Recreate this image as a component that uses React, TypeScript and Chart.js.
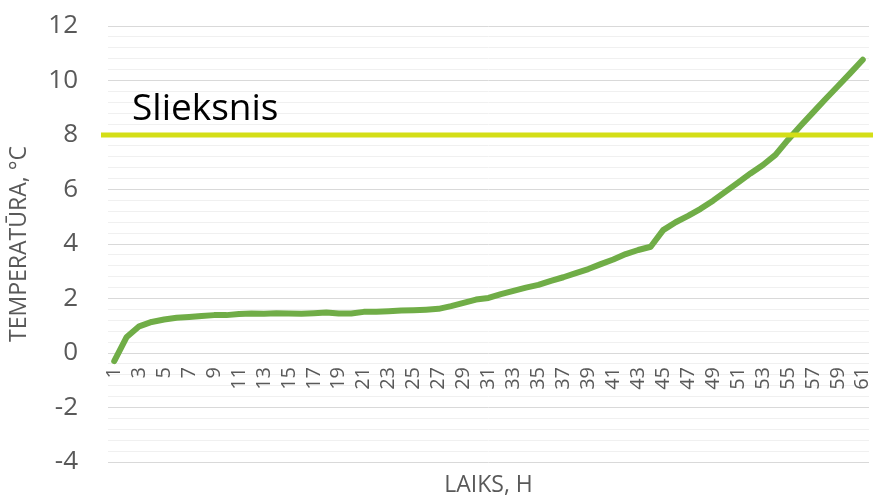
import React, { useEffect, useRef } from "react";
import { Chart, registerables } from "chart.js";

Chart.register(...registerables);

// ---- data ----
const HOURS = [
  1, 2, 3, 4, 5, 6, 7, 8, 9, 10, 11, 12, 13, 14, 15, 16, 17, 18, 19, 20,
  21, 22, 23, 24, 25, 26, 27, 28, 29, 30, 31, 32, 33, 34, 35, 36, 37, 38, 39, 40,
  41, 42, 43, 44, 45, 46, 47, 48, 49, 50, 51, 52, 53, 54, 55, 56, 57, 58, 59, 60, 61,
];

const TEMPERATURE = [
  -0.3, 0.59, 0.98, 1.14, 1.23, 1.29, 1.32, 1.36, 1.39, 1.39,
  1.43, 1.45, 1.44, 1.46, 1.45, 1.44, 1.46, 1.49, 1.45, 1.45,
  1.51, 1.51, 1.53, 1.56, 1.57, 1.59, 1.62, 1.72, 1.84, 1.96,
  2.02, 2.16, 2.28, 2.4, 2.5, 2.65, 2.78, 2.93, 3.08, 3.26,
  3.43, 3.63, 3.78, 3.9, 4.51, 4.8, 5.03, 5.29, 5.59, 5.92,
  6.25, 6.59, 6.9, 7.27, 7.82, 8.33, 8.82, 9.31, 9.79, 10.27, 10.76,
];

const THRESHOLD = 8;
const THRESHOLD_LABEL = "Slieksnis";

const Y_MIN = -4;
const Y_MAX = 12;
const Y_MAJOR_TICKS = [-4, -2, 0, 2, 4, 6, 8, 10, 12];
const Y_MINOR_PER_MAJOR = 5;

const X_TITLE = "LAIKS, H";
const Y_TITLE = "TEMPERATŪRA, °C";

// ---- styles ----
const FONT = "'Open Sans', sans-serif";
const TEXT_GREY = "#595959";
const LINE_GREEN = "#70ad47";
const THRESHOLD_COLOR = "#d4de17";
const MAJOR_GRID = "#d9d9d9";
const MINOR_GRID = "#f0f0f0";

const overlayPlugin = {
  id: "overlay",
  afterDatasetsDraw(chart: any) {
    const { ctx, chartArea, scales } = chart;
    const y = scales.y.getPixelForValue(THRESHOLD);
    ctx.save();
    ctx.strokeStyle = THRESHOLD_COLOR;
    ctx.lineWidth = 5;
    ctx.beginPath();
    ctx.moveTo(chartArea.left - 7, y);
    ctx.lineTo(chart.width, y);
    ctx.stroke();

    ctx.fillStyle = "#000000";
    ctx.font = `37px ${FONT}`;
    ctx.textAlign = "left";
    ctx.textBaseline = "alphabetic";
    ctx.fillText(THRESHOLD_LABEL, chartArea.left + 24, y - 15);

    ctx.fillStyle = TEXT_GREY;
    ctx.font = `23px ${FONT}`;
    ctx.textAlign = "center";
    ctx.textBaseline = "middle";
    ctx.fillText(X_TITLE, (chartArea.left + chartArea.right) / 2, chartArea.bottom + 23);
    ctx.restore();
  },
};

export default function App() {
  const canvasRef = useRef<HTMLCanvasElement | null>(null);

  useEffect(() => {
    const canvas = canvasRef.current;
    if (!canvas) return;
    const chart = new Chart(canvas, {
      type: "line",
      data: {
        labels: HOURS.map(String),
        datasets: [
          {
            label: "Temperatūra",
            data: TEMPERATURE,
            borderColor: LINE_GREEN,
            backgroundColor: LINE_GREEN,
            borderWidth: 6,
            borderCapStyle: "round",
            borderJoinStyle: "round",
            pointRadius: 0,
            pointHoverRadius: 0,
            tension: 0,
            fill: false,
          },
        ],
      },
      options: {
        responsive: false,
        animation: false,
        devicePixelRatio: 1,
        layout: { padding: { left: 0, right: 4, top: 26, bottom: 34 } },
        plugins: {
          legend: { display: false },
          tooltip: { enabled: false },
          title: { display: false },
        },
        scales: {
          x: {
            type: "category",
            position: { y: 0 } as any,
            offset: true,
            grid: { display: false, drawTicks: false },
            border: { display: false },
            ticks: {
              autoSkip: false,
              minRotation: 90,
              maxRotation: 90,
              padding: 14,
              color: TEXT_GREY,
              font: { family: FONT, size: 20 },
              callback: function (this: any, val: any, index: number) {
                return index % 2 === 0 ? this.getLabelForValue(val) : "";
              },
            },
            afterFit: (s: any) => {
              s.height = 0;
              s.paddingLeft = 0;
              s.paddingRight = 0;
              s.paddingTop = 0;
              s.paddingBottom = 0;
            },
          },
          y: {
            type: "linear",
            position: "left",
            min: Y_MIN,
            max: Y_MAX,
            grid: {
              drawTicks: false,
              lineWidth: 1,
              color: (ctx: any) =>
                ctx.tick && Y_MAJOR_TICKS.includes(ctx.tick.value) ? MAJOR_GRID : MINOR_GRID,
            },
            border: { display: false },
            title: {
              display: true,
              text: Y_TITLE,
              color: TEXT_GREY,
              font: { family: FONT, size: 23 },
              padding: { top: 6, bottom: 0 },
            },
            ticks: {
              autoSkip: false,
              padding: 30,
              color: TEXT_GREY,
              font: { family: FONT, size: 26 },
              callback: (v: any) => (Y_MAJOR_TICKS.includes(v) ? String(v) : ""),
            },
            afterBuildTicks: (scale: any) => {
              const t: any[] = [];
              for (let i = 0; i < Y_MAJOR_TICKS.length; i++) {
                const v = Y_MAJOR_TICKS[i];
                t.push({ value: v });
                if (i < Y_MAJOR_TICKS.length - 1) {
                  const next = Y_MAJOR_TICKS[i + 1];
                  for (let k = 1; k < Y_MINOR_PER_MAJOR; k++) {
                    t.push({ value: v + ((next - v) * k) / Y_MINOR_PER_MAJOR });
                  }
                }
              }
              scale.ticks = t;
            },
            afterFit: (s: any) => {
              s.width = 108;
              s.paddingTop = 0;
              s.paddingBottom = 0;
            },
          },
        },
      },
      plugins: [overlayPlugin],
    });
    return () => chart.destroy();
  }, []);

  return (
    <canvas
      ref={canvasRef}
      width={873}
      height={496}
      style={{ position: "absolute", left: 0, top: 0, display: "block", width: 873, height: 496 }}
    />
  );
}
